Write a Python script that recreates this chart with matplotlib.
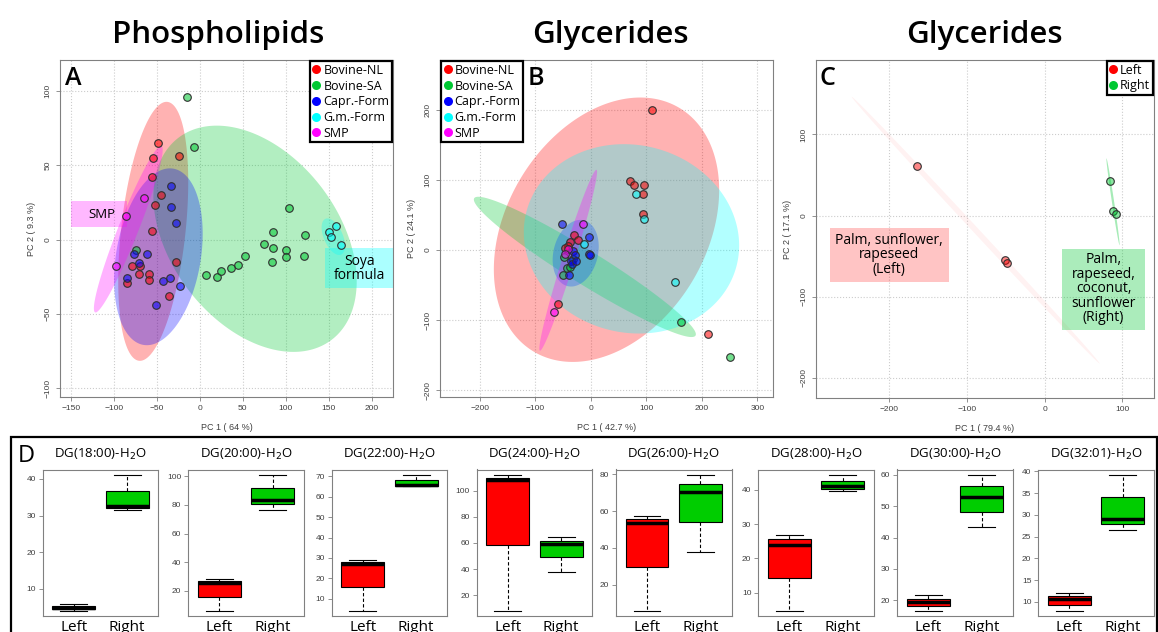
import numpy as np
import matplotlib
matplotlib.use('Agg')
import matplotlib.pyplot as plt
from matplotlib.lines import Line2D
from matplotlib.patches import Rectangle
from matplotlib.colors import to_rgba
from matplotlib.ticker import MultipleLocator

UI = ['Open Sans', 'DejaVu Sans']
TK = ['Liberation Sans', 'DejaVu Sans']

RED, GREEN, BLUE, CYAN, MAG = '#FF0000', '#00C832', '#0000FF', '#00FFFF', '#FF00FF'

# ---------------- panel A: phospholipids ----------------
A_groups = ["Bovine-NL", "Bovine-SA", "Capr.-Form", "G.m.-Form", "SMP"]
A_x = [
    [-49, -54, -24, -55, -45, -52, -56, -28, -79, -69, -70, -59, -59, -84, -36],
    [-15, -7, 7, 20, 25, 37, 45, 53, 75, 85, 85, 84, 100, 100, 104, 123, 121, -74],
    [-33, -33, -27, -61, -76, -70, -85, -43, -35, -23, -51],
    [150, 159, 153, 164],
    [-65, -86, -97],
]
A_y = [
    [65, 55, 56, 42, 30, 23, 6, -15, -18, -18, -23, -23, -27, -29, -38],
    [96, 62, -24, -25, -21, -19, -17, -11, -3, 5, -6, -15, -7, -12, 21, 3, -11, -7],
    [36, 22, 11, -10, -10, -16, -26, -28, -26, -31, -44],
    [5, 9, 2, -4],
    [28, 16, -18],
]
# ellipse: centre x, centre y, half x-extent, half y-extent, correlation
A_ell = [(-54, 5.5, 40.7, 87, 0.38),
         (64.4, 0.5, 118.2, 76, -0.377),
         (-48, -11.6, 51.5, 59.4, 0.26),
         (155.4, 1.9, 13.6, 12.3, -0.5),
         (-83, 7, 40, 56, 0.95)]

# ---------------- panel B: glycerides ----------------
B_x = [
    [110, 70, 78, 96, 93, 94, -30, -24, -38, -42, -46, -59.5, 210],
    [162, 251, -48, -51, -44, -38, -32],
    [-53, -4, -4, -2, -32, -29.5, -36, -34, -26.5, -40],
    [82, 96, 152, -13],
    [-14.5, -66, -42, -46],
]
B_y = [
    [199, 99, 93, 93, 80, 52, 21, 15, 11, 6, 3, -77, -120],
    [-102, -152, -9.5, -36, -26, -24, -13],
    [37, 19, -6, -7, -2, -7, -16, -20.5, -15, -36],
    [80, 44, -45, 9],
    [37.6, -88, 1, -6],
]
B_ell = [(28, 29, 203, 188.5, 0.3),
         (-11, -24, 200, 100, -0.96),
         (-27.5, -4.5, 41.5, 47.5, 0.2),
         (73, 16, 194, 135, -0.07),
         (-41, -14.5, 52, 129, 0.975)]

# ---------------- panel C: glycerides left/right ----------------
C_groups = ["Left", "Right"]
C_x = [[-164, -51, -48], [84, 88, 91.5]]
C_y = [[61, -54.5, -58], [42.5, 6, 2]]
C_ell = [(-88.5, -18, 159.5, 164.4, -0.9995),
         (88, 17, 8.5, 53.5, -0.985)]

# ---------------- panel D: boxplots ----------------
DG_names = ["18:00", "20:00", "22:00", "24:00", "26:00", "28:00", "30:00", "32:01"]
# whisker low, q1, median, q3, whisker high
left_stats = [[4.0, 4.4, 4.8, 5.3, 5.7],
              [6.3, 15.8, 25.3, 26.7, 28.1],
              [4.3, 15.7, 26.9, 27.9, 29.0],
              [8.4, 58.2, 108.1, 109.9, 111.9],
              [5.9, 29.6, 53.4, 55.6, 57.4],
              [4.8, 14.4, 24.0, 25.5, 26.9],
              [16.7, 18.2, 19.5, 20.5, 21.7],
              [8.0, 9.3, 10.7, 11.4, 12.1]]
right_stats = [[31.6, 32.1, 32.6, 36.8, 41.1],
               [76.6, 80.3, 83.1, 91.9, 100.9],
               [65.3, 65.4, 65.9, 68.2, 70.6],
               [38.0, 48.9, 59.2, 61.8, 64.3],
               [37.9, 54.2, 70.2, 74.8, 79.6],
               [39.6, 40.3, 41.0, 42.4, 44.3],
               [43.3, 48.3, 53.0, 56.4, 60.0],
               [26.6, 27.9, 29.0, 34.1, 39.2]]
tick_steps = [10, 20, 10, 20, 20, 10, 10, 5]


def ellipse(ax, e, color, alpha):
    cx, cy, hx, hy, r = e
    t = np.linspace(0, 2 * np.pi, 300)
    x = cx + hx * np.cos(t)
    y = cy + hy * (r * np.cos(t) + np.sqrt(1 - r ** 2) * np.sin(t))
    ax.fill(x, y, color=color, alpha=alpha, lw=0, zorder=1)


def style_pca(ax, xlim, ylim, step, xlab, ylab):
    ax.set_xlim(xlim)
    ax.set_ylim(ylim)
    ax.xaxis.set_major_locator(MultipleLocator(step[0]))
    ax.yaxis.set_major_locator(MultipleLocator(step[1]))
    ax.grid(True, ls=':', color='#cccccc', lw=0.8)
    ax.set_axisbelow(True)
    for s in ax.spines.values():
        s.set_color('#808080')
        s.set_linewidth(0.8)
    ax.tick_params(colors='#808080', length=3, width=0.6, labelsize=6, labelcolor='#404040', pad=3)
    for lb in ax.get_xticklabels() + ax.get_yticklabels():
        lb.set_family(TK)
    for lb in ax.get_yticklabels():
        lb.set_rotation(90)
        lb.set_va('center')
    ax.set_xlabel(xlab, fontsize=6.5, color='#404040', family=TK, labelpad=8)
    ax.set_ylabel(ylab, fontsize=6.5, color='#404040', family=TK, labelpad=6)


def legend(ax, labels, colors, loc):
    h = [Line2D([], [], ls='', marker='o', ms=6.5, mfc=c, mec='none') for c in colors]
    lg = ax.legend(h, labels, loc=loc, fancybox=False, framealpha=1, edgecolor='black',
                   prop={'family': UI, 'size': 9}, handlelength=0.6, handletextpad=0.25,
                   labelspacing=0.22, borderpad=0.2, borderaxespad=0.1)
    lg.get_frame().set_linewidth(1.6)
    lg.set_zorder(10)


fig = plt.figure(figsize=(11.58, 6.32), dpi=100)
W, H = 1158, 632


def px_axes(l, t, r, b):
    return fig.add_axes([l / W, 1 - b / H, (r - l) / W, (b - t) / H])


colors5 = [RED, GREEN, BLUE, CYAN, MAG]

# A
axA = px_axes(60, 60, 393, 397)
for e, c in zip(A_ell, colors5):
    ellipse(axA, e, c, 0.3)
axA.add_patch(Rectangle((-150, 8.2), 65, 17.8, color=MAG, alpha=0.28, lw=0, zorder=2))
axA.add_patch(Rectangle((145.7, -32.8), 80, 26.8, color=CYAN, alpha=0.33, lw=0, zorder=2))
axA.text(-114, 17, "SMP", ha='center', va='center', fontsize=9.5, family=UI, zorder=3)
axA.text(186, -19.5, "Soya\nformula", ha='center', va='center', fontsize=10, family=UI,
         linespacing=0.95, zorder=3)
for xs, ys, c in zip(A_x, A_y, colors5):
    axA.scatter(xs, ys, s=30, fc=to_rgba(c, 0.55), ec='#303030', lw=0.8, zorder=4)
style_pca(axA, (-162.4, 224.8), (-105.8, 120.6), (50, 50), "PC 1 ( 64 %)", "PC 2 ( 9.3 %)")
legend(axA, A_groups, colors5, 'upper right')
axA.text(0.015, 0.926, "A", transform=axA.transAxes, fontsize=18, family=UI,
         weight='semibold', va='baseline')

# B
axB = px_axes(440, 60, 773, 397)
for e, c in zip(B_ell, colors5):
    ellipse(axB, e, c, 0.3)
for xs, ys, c in zip(B_x, B_y, colors5):
    axB.scatter(xs, ys, s=30, fc=to_rgba(c, 0.55), ec='#303030', lw=0.8, zorder=4)
style_pca(axB, (-272, 328), (-209.5, 271), (100, 100), "PC 1 ( 42.7 %)", "PC 2 ( 24.1 %)")
legend(axB, A_groups, colors5, 'upper left')
axB.text(0.264, 0.926, "B", transform=axB.transAxes, fontsize=18, family=UI,
         weight='semibold', va='baseline')

# C
axC = px_axes(816, 60, 1154, 398)
ellipse(axC, C_ell[0], RED, 0.05)
ellipse(axC, C_ell[1], GREEN, 0.35)
axC.add_patch(Rectangle((-275.9, -81.7), 153, 66.7, color=RED, alpha=0.23, lw=0, zorder=2))
axC.add_patch(Rectangle((22.9, -140.4), 106.3, 99.8, color=GREEN, alpha=0.33, lw=0, zorder=2))
axC.text(-199.6, -48.5, "Palm, sunflower,\nrapeseed\n(Left)", ha='center', va='center',
         fontsize=10, family=UI, linespacing=0.95, zorder=3)
axC.text(75.8, -90, "Palm,\nrapeseed,\ncoconut,\nsunflower\n(Right)", ha='center', va='center',
         fontsize=10, family=UI, linespacing=0.95, zorder=3)
for xs, ys, c in zip(C_x, C_y, [RED, GREEN]):
    axC.scatter(xs, ys, s=30, fc=to_rgba(c, 0.45), ec='#303030', lw=0.8, zorder=4)
style_pca(axC, (-293.9, 140.7), (-224.7, 191.7), (100, 100), "PC 1 ( 79.4 %)", "PC 2 ( 17.1 %)")
legend(axC, C_groups, [RED, GREEN], 'upper right')
axC.text(0.009, 0.926, "C", transform=axC.transAxes, fontsize=18, family=UI,
         weight='semibold', va='baseline')

# titles
for xc, t in [(218, "Phospholipids"), (610, "Glycerides"), (984, "Glycerides")]:
    fig.text(xc / W, 1 - 43 / H, t, ha='center', va='baseline', fontsize=22.5,
             family=UI, weight='semibold')

# D frame
fig.patches.append(Rectangle((11 / W, -0.05), 1146 / W, 1 - 437 / H + 0.05,
                             transform=fig.transFigure, fill=False, ec='black', lw=1.6))
fig.text(18 / W, 1 - 462 / H, "D", fontsize=17, family=UI, va='baseline')

lefts = [42.7, 188.3, 331.7, 476.7, 616, 758.3, 897.3, 1038.3]
for i, name in enumerate(DG_names):
    ax = px_axes(lefts[i], 469.5, lefts[i] + 115.5, 616)
    st = []
    for s in (left_stats[i], right_stats[i]):
        st.append(dict(whislo=s[0], q1=s[1], med=s[2], q3=s[3], whishi=s[4], fliers=[]))
    bp = ax.bxp(st, positions=[1, 2], widths=0.8, capwidths=0.5, patch_artist=True,
                boxprops=dict(lw=0.8, ec='black'),
                whiskerprops=dict(ls=(0, (3, 2)), lw=0.8, color='black'),
                capprops=dict(lw=0.8, color='black'),
                medianprops=dict(lw=2.5, color='black', solid_capstyle='butt'))
    bp['boxes'][0].set_facecolor('#FF0000')
    bp['boxes'][1].set_facecolor('#00CD00')
    lo = min(left_stats[i][0], right_stats[i][0])
    hi = max(left_stats[i][4], right_stats[i][4])
    pad = 0.04 * (hi - lo)
    ax.set_ylim(lo - pad, hi + pad)
    ax.set_xlim(0.42, 2.58)
    ax.yaxis.set_major_locator(MultipleLocator(tick_steps[i]))
    ax.set_xticks([1, 2])
    ax.set_xticklabels(["Left", "Right"], family=UI, fontsize=11)
    ax.tick_params(axis='x', length=0, pad=3)
    ax.tick_params(axis='y', colors='#808080', length=3, width=0.6, labelsize=6,
                   labelcolor='#404040', pad=2)
    for lb in ax.get_yticklabels():
        lb.set_family(TK)
    for s in ax.spines.values():
        s.set_color('#808080')
        s.set_linewidth(0.8)
    ax.set_title("DG(" + name + ")-H$_2$O", fontsize=9.5, family=UI, pad=8)

fig.savefig("out.png", dpi=100)
